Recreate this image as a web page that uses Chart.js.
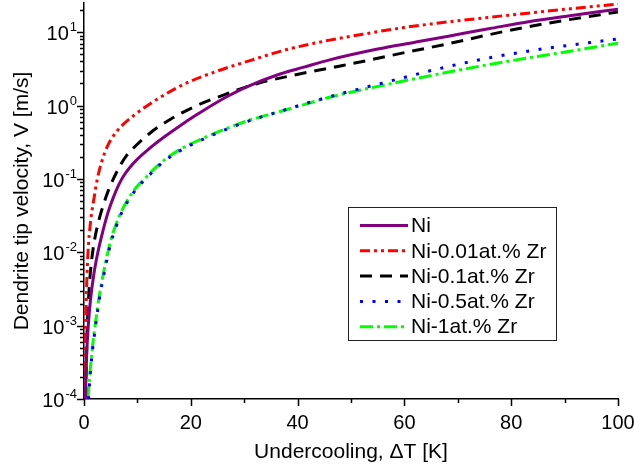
<!DOCTYPE html>
<html>
<head>
<meta charset="utf-8">
<script src="https://cdn.jsdelivr.net/npm/chart.js@4"></script>
<style>
  html, body { margin: 0; padding: 0; background: #fff; }
  #wrap { width: 634px; height: 469px; position: relative; }
</style>
</head>
<body>
<div id="wrap"><canvas id="c"></canvas></div>
<script>
// Dendrite tip velocity V [m/s] against undercooling ΔT [K]

// Pure Ni
const niT = [0.25, 0.5, 0.8, 1.2, 1.8, 2.6, 3.5, 4.5, 5.5, 6.5, 7.5, 8.5, 10, 12, 15, 18, 21, 24.2, 27, 30.5, 36.7, 41, 46, 55, 62, 68.5, 76, 83.5, 91, 100];
const niV = [1e-4, 4e-4, 1e-3, 2.2e-3, 4.8e-3, 0.01, 0.019, 0.035, 0.056, 0.083, 0.112, 0.141, 0.186, 0.251, 0.372, 0.531, 0.741, 1.035, 1.35, 1.8, 2.69, 3.31, 4.2, 5.9, 7.3, 8.9, 11.2, 14.0, 16.8, 20.6];

// Ni-0.01at.% Zr
const zr001T = [0.1, 0.2, 0.31, 0.5, 0.75, 1.2, 1.87, 2.5, 3.3, 4.4, 6.2, 9.4, 13.7, 18.7, 25, 30.6, 38, 46, 53, 60, 70, 80, 90, 100];
const zr001V = [1e-4, 3.5e-4, 1e-3, 3.5e-3, 0.01, 0.025, 0.054, 0.1, 0.17, 0.28, 0.45, 0.74, 1.22, 1.95, 2.96, 4.0, 5.8, 7.8, 9.6, 11.6, 14.3, 17.2, 20.5, 24.2];

// Ni-0.1at.% Zr
const zr01T = [0.28, 0.62, 1.0, 1.44, 2.0, 2.8, 3.6, 4.5, 5.5, 6.9, 8, 9.4, 12.5, 16.2, 20.6, 26.8, 32.5, 39.3, 46, 53, 61, 68, 76, 83, 90, 100];
const zr01V = [1e-4, 1e-3, 3.5e-3, 7.9e-3, 0.0151, 0.0275, 0.0437, 0.0676, 0.1, 0.158, 0.209, 0.27, 0.43, 0.65, 0.96, 1.45, 2.0, 2.6, 3.25, 4.1, 5.45, 6.9, 9.3, 11.8, 14.5, 18.9];

// Ni-0.5at.% Zr
const zr05T = [0.85, 1.0, 1.5, 2.0, 2.5, 3.0, 4.0, 5.0, 6.0, 7.0, 8.6, 10, 11.6, 13.3, 15.2, 18.1, 21.8, 26.2, 31.2, 36.2, 41.2, 47, 56.7, 66, 75.4, 85.1, 92, 100];
const zr05V = [1e-4, 1.5e-4, 4.0e-4, 8e-4, 1.5e-3, 2.6e-3, 6.3e-3, 0.0132, 0.0222, 0.034, 0.055, 0.076, 0.101, 0.135, 0.178, 0.245, 0.335, 0.46, 0.63, 0.81, 1.05, 1.38, 2.1, 3.12, 4.4, 5.8, 6.8, 8.1];

// Ni-1at.% Zr
const zr1T = [0.75, 1.0, 1.5, 2.0, 2.5, 3.0, 4.0, 5.0, 6.0, 7.0, 8.6, 10, 11.6, 13.3, 15.2, 18.1, 21.8, 26.2, 31.2, 36.2, 41.2, 46, 55.4, 64.8, 74.2, 83.5, 91, 100];
const zr1V = [1e-4, 1.8e-4, 4.5e-4, 9e-4, 1.7e-3, 2.9e-3, 7e-3, 0.0145, 0.024, 0.036, 0.058, 0.08, 0.105, 0.14, 0.185, 0.255, 0.345, 0.47, 0.64, 0.81, 1.03, 1.3, 1.85, 2.55, 3.45, 4.5, 5.5, 7.1];

const seriesLabels = ['Ni', 'Ni-0.01at.% Zr', 'Ni-0.1at.% Zr', 'Ni-0.5at.% Zr', 'Ni-1at.% Zr'];
const xTickLabels = [0, 20, 40, 60, 80, 100];
const yTickExponents = [-4, -3, -2, -1, 0, 1];
const xTitle = 'Undercooling, \u0394T [K]';
const yTitle = 'Dendrite tip velocity, V [m/s]';

const FONT = '"Liberation Sans", Arial, Helvetica, sans-serif';

function toPoints(t, v) {
  return t.map((x, i) => ({ x: x, y: v[i] }));
}

function series(label, t, v, color, dash, width) {
  return {
    label: label,
    data: toPoints(t, v),
    borderColor: color,
    backgroundColor: color,
    borderWidth: width,
    borderDash: dash,
    borderCapStyle: 'butt',
    pointRadius: 0,
    pointHoverRadius: 0,
    fill: false,
    cubicInterpolationMode: 'monotone'
  };
}

// Tick marks, superscript decade labels and the framed legend
const decorPlugin = {
  id: 'decor',
  afterDraw(chart) {
    const ctx = chart.ctx;
    const xs = chart.scales.x;
    const ys = chart.scales.y;
    const area = chart.chartArea;
    ctx.save();
    ctx.strokeStyle = '#000';
    ctx.lineWidth = 1.5;

    // x tick marks (outward)
    for (let v = xs.min; v <= xs.max + 1e-9; v += 10) {
      const px = Math.round(xs.getPixelForValue(v)) + 0.5;
      const len = xTickLabels.includes(v) ? 7 : 4;
      ctx.beginPath();
      ctx.moveTo(px, area.bottom);
      ctx.lineTo(px, area.bottom + len);
      ctx.stroke();
    }

    // y tick marks: decades long, 2..9 short
    for (let e = yTickExponents[0]; e <= yTickExponents[yTickExponents.length - 1] + 1; e++) {
      for (let m = 1; m <= 9; m++) {
        const v = m * Math.pow(10, e);
        if (v > ys.max * 1.0001) break;
        const py = Math.round(ys.getPixelForValue(v)) + 0.5;
        const len = m === 1 ? 7 : 4;
        ctx.beginPath();
        ctx.moveTo(area.left - len, py);
        ctx.lineTo(area.left, py);
        ctx.stroke();
      }
    }

    // y labels 10^n
    ctx.fillStyle = '#000';
    ctx.textBaseline = 'alphabetic';
    ctx.textAlign = 'left';
    yTickExponents.forEach(e => {
      const py = ys.getPixelForValue(Math.pow(10, e));
      const expText = String(e);
      ctx.font = '20px ' + FONT;
      const wBase = ctx.measureText('10').width;
      ctx.font = '13px ' + FONT;
      const wExp = ctx.measureText(expText).width;
      const right = area.left - 7;
      const x0 = right - wExp - wBase - 1;
      ctx.font = '20px ' + FONT;
      ctx.fillText('10', x0, py + 8);
      ctx.font = '13px ' + FONT;
      ctx.fillText(expText, x0 + wBase + 1, py - 1);
    });

    // legend
    const box = { left: 348.5, top: 207.5, right: 556.5, bottom: 340.5 };
    ctx.fillStyle = '#fff';
    ctx.fillRect(box.left, box.top, box.right - box.left, box.bottom - box.top);
    ctx.strokeStyle = '#222';
    ctx.lineWidth = 1;
    ctx.strokeRect(box.left, box.top, box.right - box.left, box.bottom - box.top);
    const rowY0 = 225.5;
    const rowStep = 25.3;
    chart.data.datasets.forEach((ds, i) => {
      const y = rowY0 + i * rowStep;
      ctx.save();
      ctx.strokeStyle = ds.borderColor;
      ctx.lineWidth = ds.borderWidth;
      ctx.setLineDash(ds.borderDash || []);
      ctx.lineCap = 'butt';
      ctx.beginPath();
      ctx.moveTo(360, y);
      ctx.lineTo(408, y);
      ctx.stroke();
      ctx.restore();
      ctx.fillStyle = '#000';
      ctx.font = '21px ' + FONT;
      ctx.textBaseline = 'middle';
      ctx.fillText(ds.label, 411, y + 1);
    });
    ctx.restore();
  }
};

const datasets = [
  series(seriesLabels[0], niT, niV, '#800080', [], 3),
  series(seriesLabels[1], zr001T, zr001V, '#ff0000', [10, 4, 3, 4, 3, 4], 3),
  series(seriesLabels[2], zr01T, zr01V, '#000000', [12, 8], 3),
  series(seriesLabels[3], zr05T, zr05V, '#0000ff', [3, 9.5], 3),
  series(seriesLabels[4], zr1T, zr1V, '#00ff00', [13, 4, 3, 4], 3)
];

new Chart(document.getElementById('c'), {
  type: 'line',
  data: { datasets: datasets },
  options: {
    responsive: true,
    maintainAspectRatio: false,
    animation: false,
    devicePixelRatio: 1,
    layout: { padding: { top: 3, right: 16, left: 0, bottom: 0 } },
    plugins: {
      legend: { display: false },
      tooltip: { enabled: false }
    },
    scales: {
      x: {
        type: 'linear',
        min: 0,
        max: 100,
        grid: { display: false, drawTicks: false, tickLength: 0 },
        border: { display: true, color: '#000', width: 1.5 },
        ticks: {
          stepSize: 10,
          autoSkip: false,
          maxRotation: 0,
          padding: 12,
          color: '#000',
          font: { size: 20, family: FONT },
          callback: (v) => xTickLabels.includes(v) ? String(v) : ''
        },
        title: {
          display: true,
          text: xTitle,
          color: '#000',
          font: { size: 21, family: FONT },
          padding: { top: 0, bottom: 4 }
        },
        afterFit: (scale) => {
          scale.height = 70;
          scale.paddingLeft = 0;
          scale.paddingRight = 0;
        }
      },
      y: {
        type: 'logarithmic',
        min: 1e-4,
        max: 25,
        grid: { display: false, drawTicks: false, tickLength: 0 },
        border: { display: true, color: '#000', width: 1.5 },
        ticks: { display: false },
        title: {
          display: true,
          text: yTitle,
          color: '#000',
          font: { size: 21, family: FONT },
          padding: { top: 10, bottom: 0 }
        },
        afterFit: (scale) => {
          scale.width = 84;
          scale.paddingTop = 0;
          scale.paddingBottom = 0;
        }
      }
    }
  },
  plugins: [decorPlugin]
});
</script>
</body>
</html>
